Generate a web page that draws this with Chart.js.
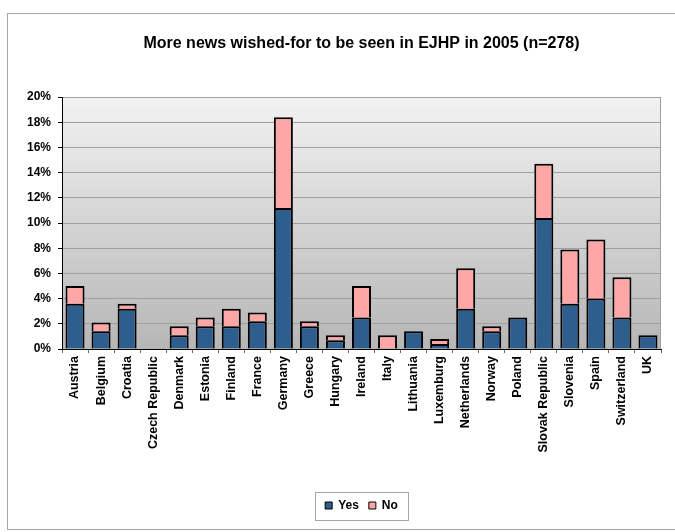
<!DOCTYPE html>
<html>
<head>
<meta charset="utf-8">
<script src="https://cdn.jsdelivr.net/npm/chart.js@4/dist/chart.umd.min.js"></script>
<style>
html,body{margin:0;padding:0;background:#fff;}
#wrap{width:675px;height:532px;position:relative;}
</style>
</head>
<body>
<div id="wrap"><canvas id="c" width="675" height="532"></canvas></div>
<script>
const categories = ["Austria","Belgium","Croatia","Czech Republic","Denmark","Estonia","Finland","France","Germany","Greece","Hungary","Ireland","Italy","Lithuania","Luxemburg","Netherlands","Norway","Poland","Slovak Republic","Slovenia","Spain","Switzerland","UK"];
const yesValues = [3.6,1.4,3.2,0,1.1,1.8,1.8,2.2,11.2,1.8,0.7,2.5,0,1.4,0.4,3.2,1.4,2.5,10.4,3.6,4.0,2.5,1.1];
const noValues  = [1.4,0.7,0.4,0,0.7,0.7,1.4,0.7,7.2,0.4,0.4,2.5,1.1,0,0.4,3.2,0.4,0,4.3,4.3,4.7,3.2,0];
const seriesNames = ["Yes","No"];
const yTickValues = [0,2,4,6,8,10,12,14,16,18,20];
const titleText = "More news wished-for to be seen in EJHP in 2005 (n=278)";

const FONT = "Arial, 'Liberation Sans', sans-serif";

const framePlugin = {
  id: 'frame',
  beforeDraw(chart) {
    const ctx = chart.ctx, a = chart.chartArea;
    ctx.save();
    ctx.fillStyle = '#fff';
    ctx.fillRect(0,0,chart.width,chart.height);
    ctx.strokeStyle = '#a6a6a6';
    ctx.lineWidth = 1;
    ctx.strokeRect(7.5, 13.5, 700, 516);
    const g = ctx.createLinearGradient(0, a.top, 0, a.bottom);
    g.addColorStop(0, '#f2f2f2');
    g.addColorStop(1, '#b6b6b6');
    ctx.fillStyle = g;
    ctx.fillRect(a.left, a.top, a.right - a.left, a.bottom - a.top);
    ctx.strokeStyle = '#a0a0a0';
    ctx.strokeRect(a.left + 0.5, a.top + 0.5, a.right - a.left - 1, a.bottom - a.top);
    ctx.restore();
  },
  afterDraw(chart) {
    const lg = chart.legend;
    if (!lg || !lg.legendHitBoxes || !lg.legendHitBoxes.length) return;
    const hb = lg.legendHitBoxes;
    let l = Infinity, r = -Infinity, t = Infinity, b = -Infinity;
    hb.forEach(h => { l = Math.min(l, h.left); r = Math.max(r, h.left + h.width); t = Math.min(t, h.top); b = Math.max(b, h.top + h.height); });
    const ctx = chart.ctx;
    ctx.save();
    ctx.strokeStyle = '#a6a6a6';
    ctx.lineWidth = 1;
    const cy = (t + b) / 2;
    ctx.strokeRect(Math.round(l - 10) + 0.5, Math.round(cy - 14) + 0.5, Math.round(r - l + 20), 28);
    ctx.restore();
  }
};

new Chart(document.getElementById('c'), {
  type: 'bar',
  data: {
    labels: categories,
    datasets: [
      { label: seriesNames[0], data: yesValues, backgroundColor: '#2e5e8d', borderColor: '#000',
        borderWidth: c => (c.raw ? 2 : 0), borderSkipped: 'start', stack: 's' },
      { label: seriesNames[1], data: noValues, backgroundColor: '#ffa6a6', borderColor: '#000',
        borderWidth: c => (c.raw ? 2 : 0), borderSkipped: 'start', stack: 's' }
    ]
  },
  options: {
    responsive: false,
    animation: false,
    devicePixelRatio: 1,
    layout: { padding: { left: 0, right: 14, top: 0, bottom: 10.5 } },
    datasets: { bar: { barPercentage: 0.73, categoryPercentage: 1.0 } },
    plugins: {
      title: { display: true, fullSize: false, text: titleText, color: '#000',
        font: { family: FONT, size: 16, weight: 'bold', lineHeight: 1.2 },
        padding: { top: 34, bottom: 43.8 } },
      legend: { position: 'bottom', fullSize: false,
        labels: { color: '#000', boxWidth: 7, boxHeight: 7, padding: 10,
          font: { family: FONT, size: 12, weight: 'bold' },
          generateLabels(chart) {
            const items = Chart.defaults.plugins.legend.labels.generateLabels(chart);
            items.forEach(i => { i.lineWidth = 1; });
            return items;
          } } },
      tooltip: { enabled: false }
    },
    scales: {
      x: {
        stacked: true, offset: true,
        grid: { offset: true, drawOnChartArea: false, drawTicks: true, tickLength: 4, color: '#666', tickColor: '#666' },
        border: { color: '#000', width: 1 },
        ticks: { autoSkip: false, minRotation: 90, maxRotation: 90, padding: 3, color: '#000',
          font: { family: FONT, size: 12.5, weight: 'bold' } },
        afterFit(s) { s.height = 140.5; }
      },
      y: {
        stacked: true, min: 0, max: 20,
        afterBuildTicks(s) { s.ticks = yTickValues.map(v => ({ value: v })); },
        grid: { color: '#a0a0a0', tickLength: 4, tickColor: '#000' },
        border: { color: '#000', width: 1 },
        ticks: { padding: 7, color: '#000', font: { family: FONT, size: 12, weight: 'bold' },
          callback: v => v + '%' },
        afterFit(s) { s.width = 62; }
      }
    }
  },
  plugins: [framePlugin]
});
</script>
</body>
</html>
